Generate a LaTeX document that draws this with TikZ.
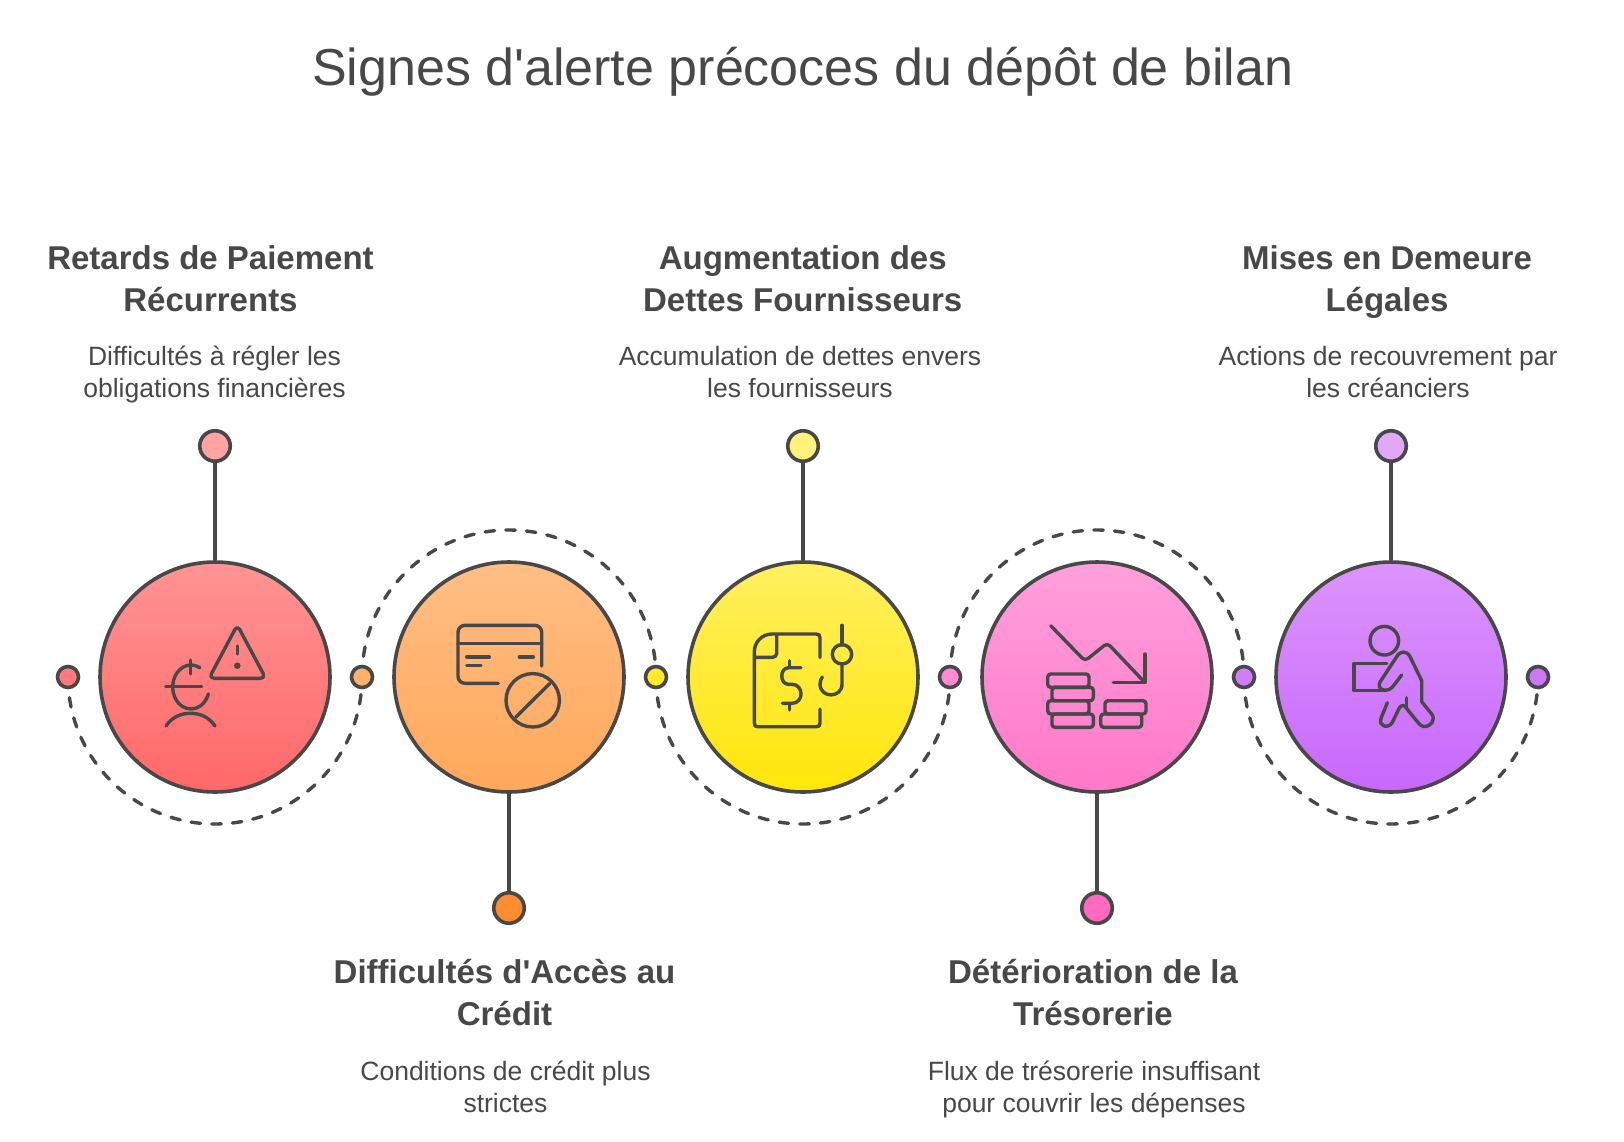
\documentclass[tikz,border=0pt]{standalone}
\usepackage{fontspec}
\setmainfont{Liberation Sans}
\usetikzlibrary{backgrounds}
\definecolor{ink}{HTML}{484848}
\definecolor{ra}{HTML}{FF9494}\definecolor{rb}{HTML}{FF6868}
\definecolor{oa}{HTML}{FFBE85}\definecolor{ob}{HTML}{FFA85A}
\definecolor{ya}{HTML}{FFF060}\definecolor{yb}{HTML}{FFE60A}
\definecolor{pa}{HTML}{FFA0DC}\definecolor{pb}{HTML}{FF78C8}
\definecolor{va}{HTML}{DC94FC}\definecolor{vb}{HTML}{C768FC}
\definecolor{rt}{HTML}{FFA3A3}\definecolor{yt}{HTML}{FFF27A}\definecolor{vt}{HTML}{E2A8F8}
\definecolor{ob2}{HTML}{FF8C2E}\definecolor{pb2}{HTML}{FF69BF}
\definecolor{d1c}{HTML}{FF7B7B}\definecolor{d2c}{HTML}{FFB26B}\definecolor{d3c}{HTML}{FFE92A}
\definecolor{d4c}{HTML}{FF8CD2}\definecolor{d5c}{HTML}{CF7DFA}\definecolor{d6c}{HTML}{CC77F5}
\tikzset{
  bigc/.style={circle,draw=ink,line width=3.6pt,minimum size=230pt,inner sep=0pt},
  dotc/.style={circle,draw=ink,line width=3.6pt,minimum size=21pt,inner sep=0pt},
  pin/.style={circle,draw=ink,line width=3.6pt,minimum size=30.5pt,inner sep=0pt},
  link/.style={draw=ink,line width=3.6pt},
  track/.style={draw=ink,line width=3.4pt,line cap=round,dash pattern=on 9.5pt off 11.2pt},
  icon/.style={draw=ink,line width=3.4pt,line cap=round,line join=round},
  heading/.style={text=ink,font=\bfseries\fontsize{33}{42}\selectfont,align=center,inner sep=0pt,anchor=base},
  sub/.style={text=ink,font=\fontsize{26.5}{32}\selectfont,align=center,inner sep=0pt,anchor=base},
}
\begin{document}
\begin{tikzpicture}[x=1pt,y=-1pt]
\useasboundingbox (0,0) rectangle (1624,1141);
\node[text=ink,font=\fontsize{52}{60}\selectfont,inner sep=0pt,anchor=base] (title) at (802.7,85.5) {Signes d\textquotesingle alerte précoces du dépôt de bilan};
% big circles
\node[bigc,top color=ra,bottom color=rb] (c1) at (215,677) {};
\node[bigc,top color=oa,bottom color=ob] (c2) at (509,677) {};
\node[bigc,top color=ya,bottom color=yb] (c3) at (803,677) {};
\node[bigc,top color=pa,bottom color=pb] (c4) at (1097,677) {};
\node[bigc,top color=va,bottom color=vb] (c5) at (1391,677) {};
% track dots
\node[dotc,fill=d1c] (d1) at (68,677) {};
\node[dotc,fill=d2c] (d2) at (362,677) {};
\node[dotc,fill=d3c] (d3) at (656,677) {};
\node[dotc,fill=d4c] (d4) at (950,677) {};
\node[dotc,fill=d5c] (d5) at (1244,677) {};
\node[dotc,fill=d6c] (d6) at (1538,677) {};
% pins
\node[pin,fill=rt] (p1) at (215,446) {};
\node[pin,fill=ob2] (p2) at (509,908) {};
\node[pin,fill=yt] (p3) at (803,446) {};
\node[pin,fill=pb2] (p4) at (1097,908) {};
\node[pin,fill=vt] (p5) at (1391,446) {};
\begin{pgfonlayer}{background}
\fill[white] (0,0) rectangle (1624,1141);
\draw[track] (d1.center) arc[start angle=180,end angle=0,radius=147];
\draw[track] (d2.center) arc[start angle=180,end angle=360,radius=147];
\draw[track] (d3.center) arc[start angle=180,end angle=0,radius=147];
\draw[track] (d4.center) arc[start angle=180,end angle=360,radius=147];
\draw[track] (d5.center) arc[start angle=180,end angle=0,radius=147];
\end{pgfonlayer}
\draw[link] (p1) -- (c1);
\draw[link] (p2) -- (c2);
\draw[link] (p3) -- (c3);
\draw[link] (p4) -- (c4);
\draw[link] (p5) -- (c5);
% texts
\node[heading] (h1) at (210.5,311) {Retards de Paiement\\Récurrents};
\node[sub] (s1) at (214.5,397) {Difficultés à régler les\\obligations financières};
\node[heading] (h2) at (504.5,1025) {Difficultés d\textquotesingle Accès au\\Crédit};
\node[sub] (s2) at (505.5,1112) {Conditions de crédit plus\\strictes};
\node[heading] (h3) at (802.7,311) {Augmentation des\\Dettes Fournisseurs};
\node[sub] (s3) at (800,397) {Accumulation de dettes envers\\les fournisseurs};
\node[heading] (h4) at (1093,1025) {Détérioration de la\\Trésorerie};
\node[sub] (s4) at (1094,1112) {Flux de trésorerie insuffisant\\pour couvrir les dépenses};
\node[heading] (h5) at (1387,311) {Mises en Demeure\\Légales};
\node[sub] (s5) at (1388,397) {Actions de recouvrement par\\les créanciers};
% icon 1
\draw[icon,rounded corners=5pt] (237.3,625) -- (209,678.3) -- (265.7,678.3) -- cycle;
\draw[icon] (237.3,646) -- (237.3,654);
\fill[ink] (237.3,665.7) circle (3.3pt);
\draw[icon] (191,687) ++(-61:18.3 and 22) arc[start angle=-61,end angle=-342,x radius=18.3,y radius=22];
\draw[icon] (190.7,660) -- (190.7,674);
\draw[icon] (165.7,686.3) -- (201.7,686.3);
\draw[icon] (166,726) .. controls (172,717) and (181,713.3) .. (190.5,713.3) .. controls (200,713.3) and (209,717) .. (215,726);
% icon 2
\draw[icon,rounded corners=7pt] (541.7,666) -- (541.7,625.3) -- (458,625.3) -- (458,683.3) -- (498.3,683.3);
\draw[icon] (458,643.3) -- (541.7,643.3);
\draw[icon] (466.7,657) -- (489.3,657);
\draw[icon] (519.3,657) -- (533.3,657);
\draw[icon] (466.7,665.3) -- (481,665.3);
\draw[icon] (532.7,700.3) circle (26.7pt);
\draw[icon] (549.7,683.5) -- (515.7,717.3);
% icon 3
\draw[icon] (820,657.3) -- (820,638) .. controls (820,635) and (819,634) .. (816,634) -- (772,634) .. controls (762,634) and (754.3,642) .. (754.3,652) -- (754.3,723) .. controls (754.3,726) and (755.3,726.7) .. (758,726.7) -- (816,726.7) .. controls (819,726.7) and (820,726) .. (820,723) -- (820,709);
\draw[icon,rounded corners=4pt] (776.7,635) -- (776.7,657.3) -- (754.3,657.3);
\draw[icon] (789.3,660.7) -- (789.3,666.7);
\draw[icon] (789.3,704) -- (789.3,710);
\draw[icon] (801,667.7) -- (788.5,667.7) .. controls (779.5,667.7) and (779.5,684.3) .. (788.5,684.3) -- (792,684.3) .. controls (804,684.3) and (804,703.3) .. (792,703.3) -- (782.3,703.3);
\draw[icon] (842,625.3) -- (842,645);
\draw[icon] (842,654.3) circle (9.7pt);
\draw[icon] (842,664) -- (842,684) .. controls (842,698.5) and (820,698.5) .. (820,684) .. controls (820,681) and (821,679) .. (822.3,677);
% icon 4
\draw[icon,rounded corners=4pt] (1050.7,625.7) -- (1085,661) -- (1107.3,643) -- (1145,682.7);
\draw[icon] (1113.3,682.7) -- (1145,682.7) -- (1145,654);
\begin{scope}[icon,rounded corners=3pt]
\draw (1047.7,674) rectangle (1089,687.3);
\draw (1052,687.3) rectangle (1093.3,700.7);
\draw (1047.7,700.7) rectangle (1089,714);
\draw (1052,714) rectangle (1093.3,727.3);
\draw (1105,700.7) rectangle (1146,714);
\draw (1100.7,714) rectangle (1141.7,727.3);
\end{scope}
% icon 5
\draw[icon] (1384.3,640.7) circle (14.3pt);
\draw[icon] (1386.7,663.3) -- (1354,663.3) -- (1354,690.7) -- (1386,690.7);
\draw[icon] (1401.7,675) -- (1392.5,687) .. controls (1387,693) and (1376,690) .. (1380,682) -- (1396.7,656.7) .. controls (1400,650.5) and (1407,650.5) .. (1410,656.7) -- (1421.7,680.7) -- (1421.7,701.7) -- (1431.7,714) .. controls (1436,720) and (1431,727) .. (1423.3,726.5) .. controls (1421,726) and (1419,724) .. (1417.3,721.7) -- (1405,706.5) .. controls (1403,704.5) and (1400,705.5) .. (1398.3,710) -- (1392.5,722) .. controls (1389,729) and (1378,727) .. (1381,718.3) -- (1387.3,702.7);
\draw[icon] (1406.7,697.7) -- (1406.7,707.7);
\end{tikzpicture}
\end{document}
